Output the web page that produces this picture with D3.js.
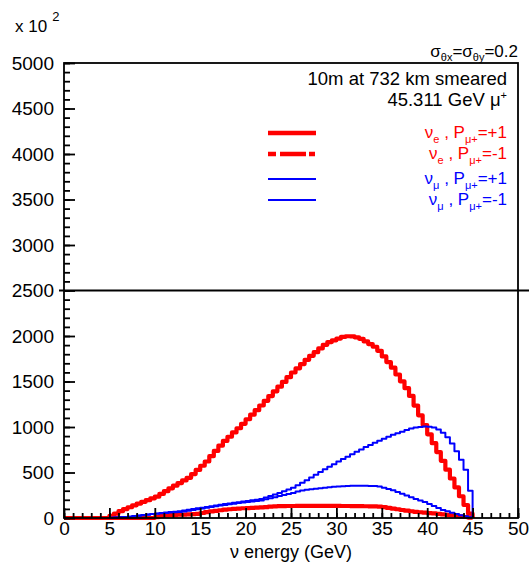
<!DOCTYPE html>
<html><head><meta charset="utf-8">
<script src="https://cdn.jsdelivr.net/npm/d3@7"></script>
<style>
body{margin:0;background:#fff;}
svg text{font-family:"Liberation Sans",Arial,sans-serif;}
</style></head>
<body>
<svg id="c" width="529" height="568"></svg>
<script>
// ---------------- data ----------------
const binWidth = 0.5;           // GeV
const xTicks = [0,5,10,15,20,25,30,35,40,45,50];
const yTicks = [0,500,1000,1500,2000,2500,3000,3500,4000,4500,5000];
const refLineValue = 2500;

// nu_e , P=+1 (start 0 GeV)
const nueP_start = 0;
const nueP = [0,0,0,0,0,0,0,0,0,0,
 23,49,75,98,118,139,159,178,196,215,
 234,265,295,326,355,384,413,442,483,528,
 574,621,679,737,795,847,893,940,986,1035,
 1085,1135,1185,1236,1288,1340,1392,1443,1495,1547,
 1599,1645,1691,1738,1782,1822,1863,1903,1933,1952,
 1972,1990,1997,1995,1985,1969,1940,1911,1882,1837,
 1776,1714,1652,1577,1502,1427,1342,1235,1128,1021,
 919,822,725,628,531,434,336,239,143,48];

// nu_e , P=-1 (start 0 GeV)
const nueM_start = 0;
const nueM = [0,0,0,0,0,0,0,0,0,0,
 0,0,0,0,0,0,0,0,0,0,
 10,20,28,32,34,36,38,40,42,45,
 55,65,72,79,85,91,96,101,104,107,
 109,111,114,116,120,124,128,130,131,132,
 132,133,133,134,134,134,134,134,134,133,
 133,132,132,131,130,130,129,128,127,126,
 120,112,104,96,88,80,74,68,63,58,
 54,50,45,40,35,30,25,18,11,4];

// nu_mu , P=+1 (start 5 GeV)
const numuP_start = 5;
const numuP = [2,6,9,11,15,21,27,33,39,44,
 50,55,60,65,70,75,82,90,98,106,
 114,122,130,137,145,153,160,167,174,181,
 188,194,201,210,225,241,258,276,294,312,
 332,360,388,416,445,475,505,535,564,592,
 620,647,674,701,728,754,779,803,828,850,
 872,893,914,931,949,967,984,994,1001,1005,
 1002,994,973,938,888,818,733,640,530,300];

// nu_mu , P=-1 (start 5 GeV)
const numuM_start = 5;
const numuM = [2,5,8,11,14,19,25,31,37,43,
 48,52,56,60,63,66,72,80,88,96,
 104,112,120,128,136,143,150,157,164,170,
 176,181,186,193,205,217,229,241,253,265,
 276,290,302,310,316,322,328,333,338,343,
 347,350,352,354,355,355,354,353,351,345,
 333,320,306,286,266,246,227,210,192,175,
 155,132,110,88,73,58,44,30,18,8];

// ---------------- drawing ----------------
const svg = d3.select("#c");
const x = d3.scaleLinear().domain([0,50]).range([64,518]);
const y = d3.scaleLinear().domain([0,5000]).range([518,63]);

function histPoints(start, vals){
  const pts=[[start,0]];
  vals.forEach((v,i)=>{pts.push([start+i*binWidth,v]);pts.push([start+(i+1)*binWidth,v]);});
  pts.push([start+vals.length*binWidth,0]);
  return pts;
}
const line = d3.line().x(d=>x(d[0])).y(d=>y(d[1]));

const series = [
  {start:nueP_start, vals:nueP, color:"#ff0000", w:4.2},
  {start:nueM_start, vals:nueM, color:"#ff0000", w:4.2},
  {start:numuP_start, vals:numuP, color:"#0000ff", w:2},
  {start:numuM_start, vals:numuM, color:"#0000ff", w:2}
];
series.forEach(s=>{
  svg.append("path").attr("d",line(histPoints(s.start,s.vals)))
    .attr("fill","none").attr("stroke",s.color).attr("stroke-width",s.w)
    .attr("stroke-linejoin","round");
});

// frame
svg.append("rect").attr("x",x(0)).attr("y",y(5000)).attr("width",x(50)-x(0)).attr("height",y(0)-y(5000))
  .attr("fill","none").attr("stroke","#000").attr("stroke-width",1.8);

// axes
const yMinor = d3.range(0,5001,100);
const xMinor = d3.range(0,51,1);
svg.append("g").attr("transform",`translate(${x(0)},0)`)
  .call(d3.axisLeft(y).tickValues(yMinor).tickSize(-6).tickFormat(""))
  .call(g=>{g.select(".domain").remove();g.selectAll("line").attr("stroke-width",1.8);});
svg.append("g").attr("transform",`translate(${x(0)},0)`)
  .call(d3.axisLeft(y).tickValues(yTicks).tickSize(-11).tickPadding(10).tickFormat(d3.format("d")))
  .call(g=>{g.select(".domain").remove();g.selectAll("line").attr("stroke-width",1.8);
    g.selectAll("text").attr("font-size",19).attr("font-family","Liberation Sans").attr("fill","#000");});
svg.append("g").attr("transform",`translate(0,${y(0)})`)
  .call(d3.axisBottom(x).tickValues(xMinor).tickSize(-5).tickFormat(""))
  .call(g=>{g.select(".domain").remove();g.selectAll("line").attr("stroke-width",1.8);});
svg.append("g").attr("transform",`translate(0,${y(0)})`)
  .call(d3.axisBottom(x).tickValues(xTicks).tickSize(-10).tickPadding(4).tickFormat(d3.format("d")))
  .call(g=>{g.select(".domain").remove();g.selectAll("line").attr("stroke-width",1.8);
    g.selectAll("text").attr("font-size",19).attr("font-family","Liberation Sans").attr("fill","#000");});

// reference line at 2500
svg.append("line").attr("x1",x(0)-5).attr("x2",529).attr("y1",y(refLineValue)).attr("y2",y(refLineValue))
  .attr("stroke","#000").attr("stroke-width",1.8);

// exponent label
const ex = svg.append("text").attr("x",15).attr("y",32).attr("font-size",17).attr("fill","#000");
ex.append("tspan").text("x 10");
ex.append("tspan").attr("dx",5).attr("dy",-11).attr("font-size",13).text("2");

// axis title
svg.append("text").attr("x",(x(0)+x(50))/2).attr("y",558).attr("text-anchor","middle")
  .attr("font-size",18).attr("fill","#000").text("\u03bd energy (GeV)");

// top-right texts
const sg = svg.append("text").attr("x",518).attr("y",57).attr("text-anchor","end").attr("font-size",17).attr("fill","#000");
sg.append("tspan").text("\u03c3");
sg.append("tspan").attr("dy",4).attr("font-size",11).text("\u03b8x");
sg.append("tspan").attr("dy",-4).text("=\u03c3");
sg.append("tspan").attr("dy",4).attr("font-size",11).text("\u03b8y");
sg.append("tspan").attr("dy",-4).text("=0.2");

svg.append("text").attr("x",507).attr("y",85).attr("text-anchor","end").attr("font-size",18.5).attr("fill","#000")
  .text("10m at 732 km smeared");
const mu = svg.append("text").attr("x",507).attr("y",106).attr("text-anchor","end").attr("font-size",18.5).attr("fill","#000");
mu.append("tspan").text("45.311 GeV \u03bc");
mu.append("tspan").attr("dy",-7).attr("font-size",11).text("+");

// legend
const legendFlavours = ["e","e","\u03bc","\u03bc"];
const legendPol = ["=+1","=-1","=+1","=-1"];
const legendColors = ["#ff0000","#ff0000","#0000ff","#0000ff"];
const legendWidths = [4.5,4.5,2,2];
const legendDash = [null,"8,4,26,3,6,60",null,null];
const legendY = [133,154,179,200];
legendY.forEach((ly,i)=>{
  const l = svg.append("line").attr("x1",268).attr("x2",316).attr("y1",ly).attr("y2",ly)
    .attr("stroke",legendColors[i]).attr("stroke-width",legendWidths[i]);
  if(legendDash[i]) l.attr("stroke-dasharray",legendDash[i]);
  const t = svg.append("text").attr("x",507).attr("y",ly+5).attr("text-anchor","end")
    .attr("font-size",17).attr("fill",legendColors[i]);
  t.append("tspan").text("\u03bd");
  t.append("tspan").attr("dy",5).attr("font-size",11).text(legendFlavours[i]);
  t.append("tspan").attr("dy",-5).text(" , P");
  t.append("tspan").attr("dy",5).attr("font-size",11).text("\u03bc+");
  t.append("tspan").attr("dy",-5).text(legendPol[i]);
});
</script>
</body></html>
